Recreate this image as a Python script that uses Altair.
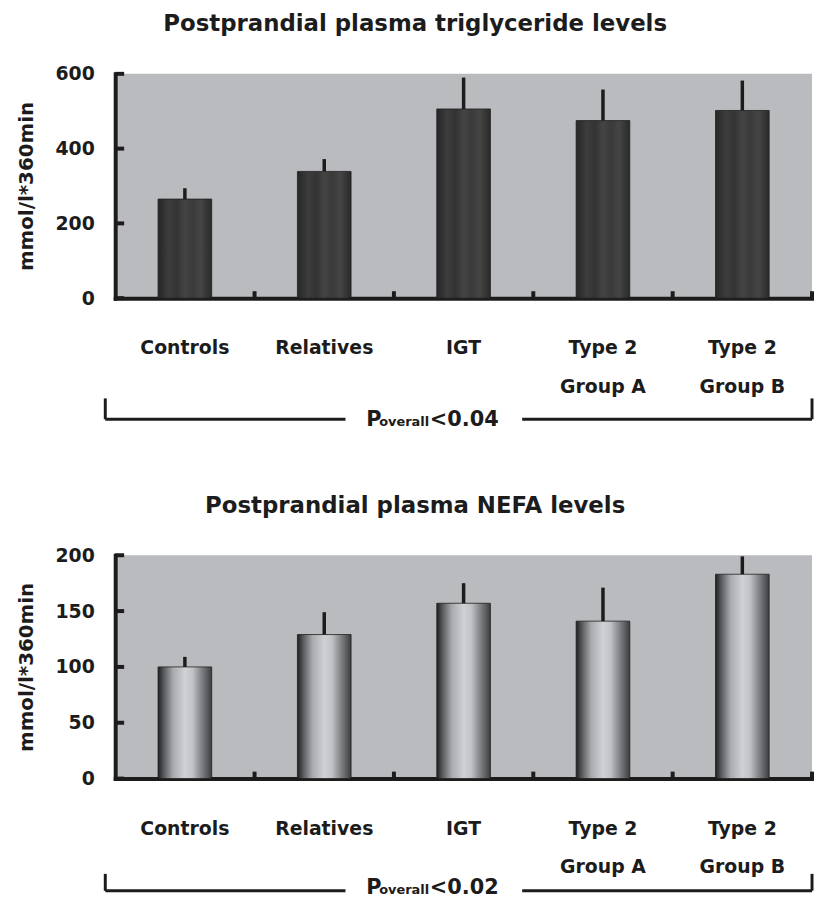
import altair as alt
import pandas as pd

categories = ["Controls", "Relatives", "IGT", "Type 2|Group A", "Type 2|Group B"]
tg_mean = [265, 339, 506, 475, 502]
tg_upper = [294, 372, 590, 558, 582]
nefa_mean = [100, 129, 157, 141, 183]
nefa_upper = [109, 149, 175, 171, 199]
tg_ticks = [0, 200, 400, 600]
nefa_ticks = [0, 50, 100, 150, 200]
titles = ["Postprandial plasma triglyceride levels", "Postprandial plasma NEFA levels"]
p_values = ["<0.04", "<0.02"]
y_title = "mmol/l*360min"

FONT = "DejaVu Sans"
INK = "#1c1c1c"
W = 702

dark_fill = {
    "gradient": "linear", "x1": 0, "x2": 1, "y1": 0, "y2": 0,
    "stops": [
        {"offset": 0.0, "color": "#262626"},
        {"offset": 0.08, "color": "#2f2f2f"},
        {"offset": 0.2, "color": "#3d3d3d"},
        {"offset": 0.35, "color": "#333333"},
        {"offset": 0.5, "color": "#444444"},
        {"offset": 0.65, "color": "#3a3a3a"},
        {"offset": 0.8, "color": "#454545"},
        {"offset": 0.92, "color": "#343434"},
        {"offset": 1.0, "color": "#2a2a2a"},
    ],
}
cyl_fill = {
    "gradient": "linear", "x1": 0, "x2": 1, "y1": 0, "y2": 0,
    "stops": [
        {"offset": 0.0, "color": "#1f1f1f"},
        {"offset": 0.1, "color": "#55565a"},
        {"offset": 0.28, "color": "#a9aaae"},
        {"offset": 0.5, "color": "#d0d1d4"},
        {"offset": 0.64, "color": "#c2c3c6"},
        {"offset": 0.8, "color": "#85868a"},
        {"offset": 0.92, "color": "#5a5b5e"},
        {"offset": 1.0, "color": "#3c3c3e"},
    ],
}


def panel(title, means, uppers, ticks, ymax, pval, fill, H, by0, by1, tb):
    df = pd.DataFrame({"cat": categories, "mean": means, "upper": uppers})
    tdf = pd.DataFrame({"v": ticks})
    one = pd.DataFrame({"p": [pval]})
    xs = alt.Scale(paddingInner=0, paddingOuter=0)
    ysc = alt.Scale(domain=[0, ymax], nice=False)
    xaxis = alt.Axis(
        title=None, domainWidth=4, domainColor=INK, domainCap="square", ticks=False,
        labelAngle=0, labelFont=FONT, labelFontSize=19, labelFontWeight="bold",
        labelColor=INK, labelBaseline="top", labelLineHeight=39, labelPadding=41,
        labelExpr="split(datum.label, '|')",
    )
    yaxis = alt.Axis(
        title=y_title, values=ticks, domainWidth=4, domainColor=INK, domainCap="square",
        ticks=False, grid=False, labelFont=FONT, labelFontSize=19, labelFontWeight="bold",
        labelColor=INK, labelPadding=21, titleFont=FONT, titleFontSize=20,
        titleFontWeight="bold", titleColor=INK, titlePadding=19,
    )
    bars = alt.Chart(df).mark_bar(
        width={"band": 0.385}, fill=fill, stroke="#202020", strokeWidth=0.8
    ).encode(
        x=alt.X("cat:N", sort=categories, scale=xs, axis=xaxis),
        y=alt.Y("mean:Q", scale=ysc, axis=yaxis),
    )
    err = alt.Chart(df).mark_rule(strokeWidth=3.5, color=INK).encode(
        x=alt.X("cat:N", sort=categories),
        y="mean:Q",
        y2="upper:Q",
    )
    yt = alt.Chart(tdf).mark_rule(strokeWidth=4, color=INK).encode(
        y="v:Q", x=alt.value(0), x2=alt.value(9)
    )
    xt = alt.Chart(df).mark_rule(strokeWidth=4, color=INK).encode(
        x=alt.X("cat:N", sort=categories, bandPosition=1),
        y=alt.value(H - 7), y2=alt.value(H),
    )
    base = alt.Chart(one)
    lw = 3
    b0, b1, t = H + by0, H + by1, H + tb
    br = [
        base.mark_rule(strokeWidth=lw, color=INK).encode(
            x=alt.value(-10), y=alt.value(b0), y2=alt.value(b1)),
        base.mark_rule(strokeWidth=lw, color=INK).encode(
            x=alt.value(-10), x2=alt.value(232), y=alt.value(b1)),
        base.mark_rule(strokeWidth=lw, color=INK).encode(
            x=alt.value(410), x2=alt.value(702), y=alt.value(b1)),
        base.mark_rule(strokeWidth=lw, color=INK).encode(
            x=alt.value(702), y=alt.value(b0), y2=alt.value(b1)),
        base.mark_text(font=FONT, fontSize=21, fontWeight="bold", color=INK,
                       align="left", baseline="alphabetic").encode(
            x=alt.value(253), y=alt.value(t), text=alt.value("P")),
        base.mark_text(font=FONT, fontSize=13, fontWeight="bold", color=INK,
                       align="left", baseline="alphabetic").encode(
            x=alt.value(266), y=alt.value(t), text=alt.value("overall")),
        base.mark_text(font=FONT, fontSize=21, fontWeight="bold", color=INK,
                       align="left", baseline="alphabetic").encode(
            x=alt.value(317), y=alt.value(t), text="p:N"),
    ]
    return alt.layer(bars, err, yt, xt, *br).properties(
        width=W, height=H, title=title
    )


top = panel(titles[0], tg_mean, tg_upper, tg_ticks, 600, p_values[0], dark_fill, 226,
            101, 122, 129)
bottom = panel(titles[1], nefa_mean, nefa_upper, nefa_ticks, 200, p_values[1], cyl_fill, 225,
               96, 113, 116)

chart = alt.vconcat(top, bottom, spacing=65).properties(
    padding={"left": 8, "top": 2, "right": 0, "bottom": 0}
).configure_view(fill="#babbbf", stroke=None).configure_title(
    font=FONT, fontSize=23, fontWeight="bold", color=INK, anchor="middle",
    frame="bounds", offset=29
)

chart.save("out.html", embed_options={"renderer": "svg", "actions": False})
